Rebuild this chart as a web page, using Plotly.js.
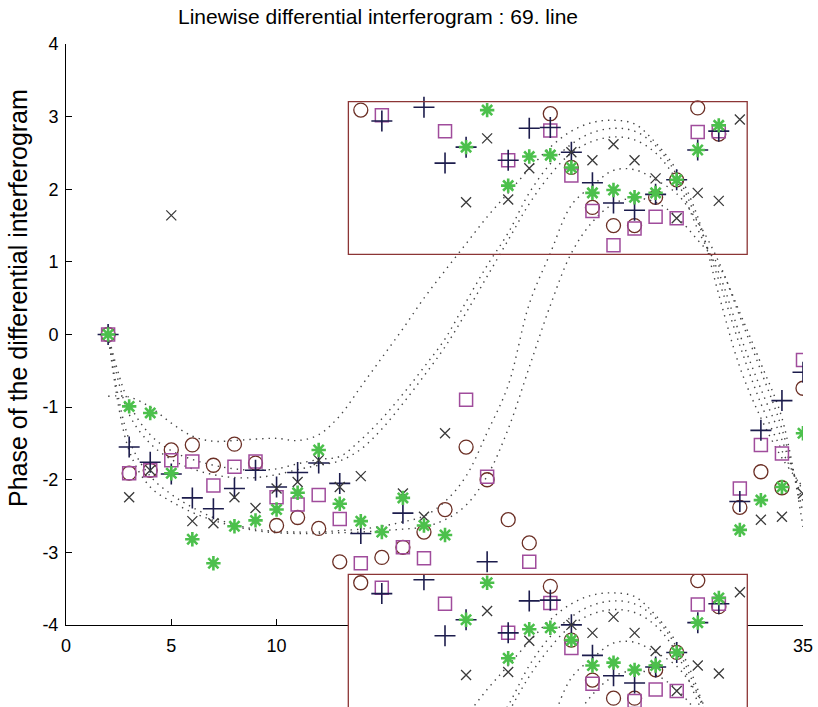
<!DOCTYPE html>
<html>
<head>
<meta charset="utf-8">
<script src="https://cdn.plot.ly/plotly-3.0.1.min.js"></script>
<style>html,body{margin:0;padding:0;background:#fff;}#chart{width:818px;height:707px;}</style>
</head>
<body>
<div id="chart"></div>
<script>
// ---- data ----
var xPos = [2,3,4,5,6,7,8,9,10,11,12,13,14,15,16,17,18,19,20,21,22,23,24,25,26,27,28,29,30,31,32,33,34,35];
var circleVals   = [0,-1.91,-1.87,-1.59,-1.52,-1.80,-1.51,-1.77,-2.63,-2.52,-2.67,-3.13, 3.09,-3.07,-2.93,-2.72,-2.41,-1.55,-2.00,-2.55,-2.87, 3.04, 2.30, 1.75, 1.50, 1.50, 1.89, 2.13, 3.12, 2.76,-2.38,-1.89,-2.11,-0.74];
var squareVals   = [0,-1.91,-1.87,-1.73,-1.75,-2.08,-1.82,-1.75,-2.24,-2.34,-2.21,-2.54,-3.15, 3.02,-2.93,-3.08, 2.80,-0.90,-1.96, 2.40,-3.13, 2.81, 2.19, 1.70, 1.23, 1.46, 1.62, 1.60, 2.79, 2.80,-2.12,-1.52,-1.64,-0.35];
var plusVals     = [0,-1.55,-1.76,-1.92,-2.25,-2.40,-2.12,-1.87,-2.10,-1.90,-1.77,-2.05,-2.74, 2.94,-2.46, 3.13, 2.36, 2.58,-3.13, 2.40, 2.84, 2.85, 2.51, 2.09, 1.81, 1.71, 1.93, 2.13, 2.54, 2.80,-2.30,-1.32,-0.91,-0.52];
var crossVals    = [0,-2.24,-1.87, 1.64,-2.57,-2.60,-2.24,-2.39,-2.12,-2.03,-1.73,-2.10,-1.95,-2.72,-2.19,-2.51,-1.36, 1.82, 2.70, 1.86, 2.29, 2.47, 2.51, 2.40, 2.62, 2.40, 2.15, 1.60, 1.95, 1.84, 2.96,-2.55,-2.51,-2.19];
var asteriskVals = [0,-0.99,-1.08,-1.91,-2.82,-3.15,-2.64,-2.56,-2.41,-2.18,-1.59,-2.33,-2.57,-2.72,-2.25,-2.63,-2.76, 2.58, 3.09, 2.05, 2.45, 2.47, 2.30, 1.95, 1.99, 1.89, 1.95, 2.13, 2.54, 2.88,-2.69,-2.28,-2.10,-1.36];

// fitted curves (dotted)
var fitX = [2,3,4,5,6,7,8,9,10,11,12,13,14,15,16,17,18,19,20,21,22,23,24,25,26,27,28,29,30,31,32,33,34,35];
var fit1 = [-0.85,-0.86,-1.00,-1.22,-1.40,-1.47,-1.46,-1.44,-1.43,-1.46,-1.38,-1.12,-0.72,-0.32,0.08,0.50,0.88,1.25,1.62,1.95,2.28,2.58,2.80,2.92,2.95,2.90,2.64,2.26,1.62,0.55,-0.45,-1.15,-1.70,-2.10];
var fit2 = [0,-0.95,-1.38,-1.60,-1.72,-1.80,-1.85,-1.87,-1.85,-1.78,-1.72,-1.68,-1.45,-1.16,-0.82,-0.45,-0.06,0.45,0.95,1.40,1.95,2.35,2.62,2.78,2.84,2.80,2.60,2.20,1.55,0.75,-0.15,-0.95,-1.60,-2.15];
var fit3 = [0,-1.10,-1.50,-1.72,-1.85,-1.93,-1.97,-1.97,-1.93,-1.86,-1.80,-1.74,-1.58,-1.30,-0.95,-0.57,-0.17,0.30,0.80,1.30,1.80,2.20,2.50,2.66,2.72,2.68,2.50,2.12,1.45,0.85,0.00,-0.75,-1.45,-2.30];
var fit4 = [0,-1.45,-1.95,-2.20,-2.38,-2.52,-2.62,-2.68,-2.71,-2.72,-2.72,-2.70,-2.68,-2.64,-2.58,-2.50,-2.30,-1.95,-1.35,-0.70,0.42,1.12,1.78,2.05,2.26,2.27,2.13,1.94,1.55,1.00,0.25,-0.50,-1.30,-2.45];
var fit5 = [0,-1.60,-2.10,-2.30,-2.45,-2.56,-2.64,-2.70,-2.73,-2.74,-2.74,-2.73,-2.72,-2.70,-2.68,-2.65,-2.55,-2.35,-1.95,-1.30,-0.45,0.40,1.12,1.55,1.80,1.88,1.82,1.62,1.30,0.95,0.30,-0.40,-1.15,-2.65];

var xTicks = [0,5,10,15,20,25,30,35];
var yTicks = [-4,-3,-2,-1,0,1,2,3,4];
var yTickText = ['-4','-3','-2','-1','0','1','2','3','4'];

// ---- traces ----
var fits = [fit1, fit2, fit3, fit4, fit5];
var series = [
  {y: circleVals,   symbol: 'circle-open',      color: '#6b2f25', size: 14, w: 1.3},
  {y: squareVals,   symbol: 'square-open',      color: '#a04c9c', size: 13, w: 1.5},
  {y: plusVals,     symbol: 'cross-thin-open',  color: '#1c1c4c', size: 15, w: 1.6},
  {y: crossVals,    symbol: 'x-thin-open',      color: '#3a3a3a', size: 10, w: 1.3},
  {y: asteriskVals, symbol: 'asterisk-open',    color: '#4cc04c', size: 12, w: 2.6}
];
var traces = [];
['', '2'].forEach(function (sfx) {
  fits.forEach(function (f) {
    traces.push({x: fitX, y: f, xaxis: 'x' + sfx, yaxis: 'y' + sfx, mode: 'lines', hoverinfo: 'skip',
      line: {color: '#444', width: 1.4, dash: '1.4px,5px', shape: 'spline'}, showlegend: false});
  });
  series.forEach(function (s) {
    traces.push({x: xPos, y: s.y, xaxis: 'x' + sfx, yaxis: 'y' + sfx, mode: 'markers', showlegend: false,
      marker: {symbol: s.symbol, size: s.size, color: s.color, line: {color: s.color, width: s.w}}});
  });
});

var H = 663, axisBottomPx = 82;
var layout = {
  width: 818, height: 707,
  margin: {l: 66, r: 15, t: 44, b: 0, pad: 0},
  paper_bgcolor: '#fff', plot_bgcolor: '#fff',
  font: {family: 'Liberation Sans, Arial, sans-serif', color: '#000', size: 18},
  showlegend: false,
  xaxis: {domain: [0, 1], anchor: 'y', range: [0, 35], tickvals: xTicks, ticks: 'inside', ticklen: 6,
    tickcolor: '#000', showline: true, linecolor: '#000', linewidth: 1, showgrid: false, zeroline: false,
    tickfont: {size: 18}, ticklabelstandoff: 4},
  yaxis: {domain: [axisBottomPx / H, 1], anchor: 'x', range: [-4, 4], tickvals: yTicks, ticktext: yTickText,
    ticks: 'inside', ticklen: 6, tickcolor: '#000', showline: true, linecolor: '#000', linewidth: 1,
    showgrid: false, zeroline: false, tickfont: {size: 18}, ticklabelstandoff: 3},
  xaxis2: {domain: [282.3 / 737, 681.3 / 737], anchor: 'y2', range: [13.41, 32.35], visible: false},
  yaxis2: {domain: [0, 132.7 / H], anchor: 'x2', range: [1.379, 3.206], visible: false},
  shapes: [
    {type: 'rect', xref: 'x', yref: 'y', x0: 13.41, x1: 32.35, y0: 1.104, y1: 3.206,
      line: {color: '#8c3535', width: 1.3}, layer: 'above'},
    {type: 'rect', xref: 'paper', yref: 'paper', x0: 282.3 / 737, x1: 681.3 / 737, y0: -0.3, y1: 132.7 / H,
      line: {color: '#8c3535', width: 1.3}, layer: 'above'}
  ],
  annotations: [
    {text: 'Linewise differential interferogram : 69. line', xref: 'paper', yref: 'paper',
      x: (378 - 66) / 737, y: 1 + (44 - 17) / H, xanchor: 'center', yanchor: 'middle', showarrow: false,
      font: {size: 21}},
    {text: 'Phase of the differential interferogram', xref: 'paper', yref: 'paper',
      x: (18 - 66) / 737, y: (707 - 298) / H, xanchor: 'center', yanchor: 'middle', textangle: -90,
      showarrow: false, font: {size: 25}}
  ]
};
Plotly.newPlot('chart', traces, layout, {staticPlot: true});
</script>
</body>
</html>
